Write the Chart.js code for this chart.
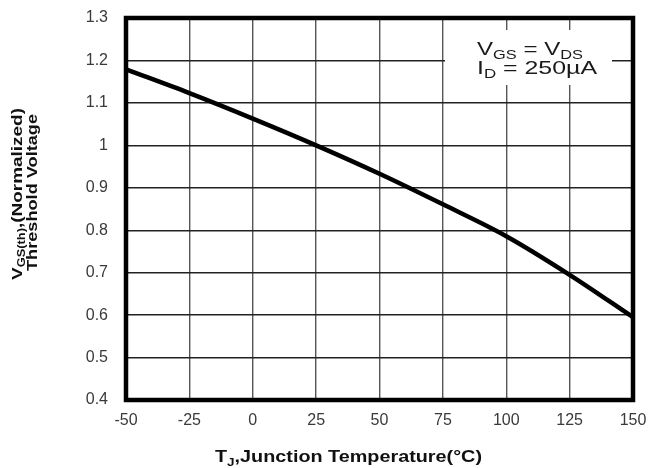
<!DOCTYPE html>
<html>
<head>
<meta charset="utf-8">
<script src="https://cdn.jsdelivr.net/npm/chart.js@4/dist/chart.umd.min.js"></script>
<style>
  html, body { margin: 0; padding: 0; background: #fff; }
  #wrap { width: 651px; height: 468px; position: relative; }
</style>
</head>
<body>
<div id="wrap"><canvas id="c" width="651" height="468"></canvas></div>
<script>
// junction temperature (°C) vs normalized threshold voltage
const temps = [-50, -25, 0, 25, 50, 75, 100, 125, 150];
const vthNorm = [1.179, 1.123, 1.063, 1.0, 0.933, 0.861, 0.786, 0.695, 0.595];

const xMin = -50, xMax = 150, xStep = 25;
const yMin = 0.4, yMax = 1.3, yStep = 0.1;

const FONT = '"Liberation Sans", Arial, sans-serif';

// draws a run of text pieces, some of them as subscripts
function drawRich(ctx, parts, x, y, size, weight) {
  let cx = x;
  for (const p of parts) {
    const s = p.sub ? size * 0.68 : size;
    ctx.font = weight + ' ' + s + 'px ' + FONT;
    ctx.fillText(p.t, cx, p.sub ? y + size * 0.22 : y);
    cx += ctx.measureText(p.t).width;
  }
  return cx - x;
}
function richWidth(ctx, parts, size, weight) {
  let w = 0;
  for (const p of parts) {
    const s = p.sub ? size * 0.68 : size;
    ctx.font = weight + ' ' + s + 'px ' + FONT;
    w += ctx.measureText(p.t).width;
  }
  return w;
}
// text squeezed/stretched to a given width, x = left edge
function drawFitted(ctx, parts, x, y, size, weight, targetW) {
  const w = richWidth(ctx, parts, size, weight);
  ctx.save();
  ctx.translate(x, y);
  ctx.scale(targetW / w, 1);
  drawRich(ctx, parts, 0, 0, size, weight);
  ctx.restore();
}

const decor = {
  id: 'decor',
  afterDraw(chart) {
    const ctx = chart.ctx;
    const a = chart.chartArea;
    ctx.save();

    // note box over the grid
    ctx.fillStyle = '#fff';
    ctx.fillRect(445, 30, 167, 55);
    ctx.fillStyle = '#1a1a1a';
    ctx.textBaseline = 'alphabetic';
    drawFitted(ctx, [{t: 'V'}, {t: 'GS', sub: true}, {t: ' = V'}, {t: 'DS', sub: true}], 477, 55, 18, 'normal', 106);
    drawFitted(ctx, [{t: 'I'}, {t: 'D', sub: true}, {t: ' = 250µA'}], 477, 74, 18, 'normal', 120);

    // heavy frame
    ctx.strokeStyle = '#000';
    ctx.lineWidth = 4.5;
    ctx.strokeRect(a.left, a.top, a.right - a.left, a.bottom - a.top);

    // x axis title
    ctx.fillStyle = '#111';
    drawFitted(ctx, [{t: 'T'}, {t: 'J', sub: true}, {t: ',Junction Temperature(°C)'}], 215, 462, 16, 'bold', 267);

    // y axis title, two rotated lines
    ctx.save();
    ctx.rotate(-Math.PI / 2);
    drawFitted(ctx, [{t: 'V'}, {t: 'GS(th)', sub: true}, {t: ',(Normalized)'}], -280, 22, 15, 'bold', 172);
    drawFitted(ctx, [{t: 'Threshold Voltage'}], -271, 37, 15, 'bold', 157);
    ctx.restore();

    ctx.restore();
  }
};

new Chart(document.getElementById('c'), {
  type: 'line',
  data: {
    datasets: [{
      data: temps.map((t, i) => ({x: t, y: vthNorm[i]})),
      borderColor: '#000',
      borderWidth: 4.5,
      pointRadius: 0,
      cubicInterpolationMode: 'monotone',
      fill: false
    }]
  },
  options: {
    responsive: false,
    animation: false,
    events: [],
    layout: { padding: { top: 18, right: 18, left: 0, bottom: 0 } },
    plugins: { legend: { display: false }, tooltip: { enabled: false } },
    scales: {
      x: {
        type: 'linear',
        min: xMin, max: xMax,
        afterFit: s => { s.height = 68; s.paddingLeft = 0; s.paddingRight = 0; },
        ticks: { stepSize: xStep, color: '#3a3a3a', padding: 11, font: { family: FONT, size: 16 }, maxRotation: 0 },
        grid: { color: '#555', lineWidth: 1.4, drawTicks: false },
        border: { display: false }
      },
      y: {
        type: 'linear',
        min: yMin, max: yMax,
        afterFit: s => { s.width = 126; s.paddingTop = 0; s.paddingBottom = 0; },
        ticks: {
          stepSize: yStep, color: '#3a3a3a', padding: 18, font: { family: FONT, size: 16 },
          callback: v => String(+v.toFixed(1))
        },
        grid: { color: '#222', lineWidth: 1.4, drawTicks: false },
        border: { display: false }
      }
    }
  },
  plugins: [decor]
});
</script>
</body>
</html>
